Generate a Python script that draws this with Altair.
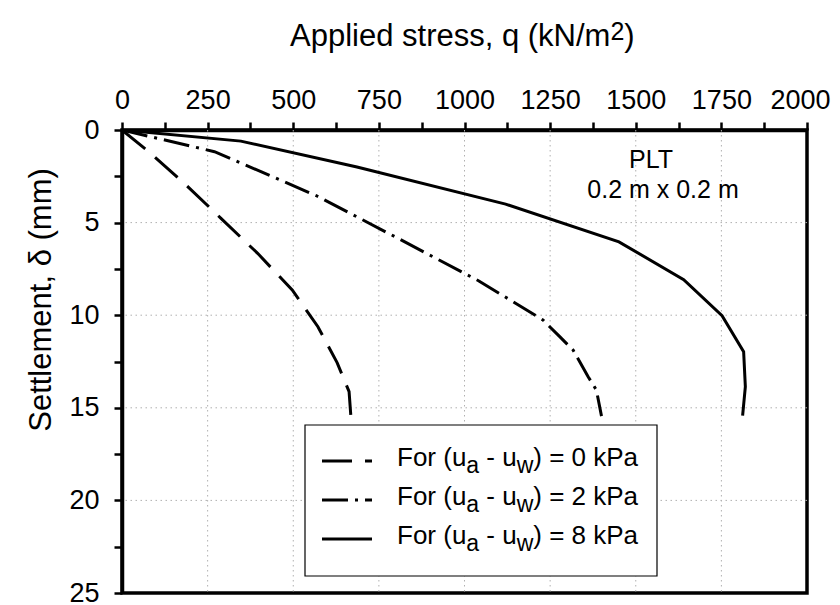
import altair as alt
import pandas as pd

# ---------------- data ----------------
q_0kpa = [0, 75, 182, 289, 396, 497, 572, 628, 663, 670]
d_0kpa = [0, 1.13, 2.88, 4.77, 6.66, 8.64, 10.62, 12.56, 14.13, 15.9]

q_2kpa = [0, 270, 568, 806, 1042, 1161, 1229, 1278, 1317, 1361, 1385, 1400]
d_2kpa = [0, 1.17, 3.55, 5.85, 8.15, 9.49, 10.26, 11.16, 11.88, 13.32, 14.04, 15.45]

q_8kpa = [0, 347, 686, 1120, 1451, 1640, 1752, 1815, 1820, 1812]
d_8kpa = [0, 0.6, 2.0, 4.0, 6.04, 8.08, 10.03, 11.97, 13.86, 15.42]

suction_kpa = ["0", "2", "8"]
x_ticks = [i * 125 for i in range(17)]
y_ticks = [i * 2.5 for i in range(11)]
x_grid = [250, 500, 750, 1000, 1250, 1500, 1750]
y_grid = [5, 10, 15, 20]

x_title_main = "Applied stress, q (kN/m"
x_title_sup = "2"
x_title_end = ")"
y_title = "Settlement, \u03b4 (mm)"
plt_line1 = "PLT"
plt_line2 = "0.2 m x 0.2 m"

# ---------------- styling ----------------
FONT = "Liberation Sans"
W, H = 685, 463
DASHES = [[30, 13], [26, 7, 3, 7], None]

ARIAL = {' ': 278, '(': 333, ')': 333, '-': 333, '=': 584, 'F': 611, 'o': 556,
         'r': 333, 'u': 556, 'a': 556, 'w': 722, 'k': 500, 'P': 667, 'A': 667,
         'p': 556, 'l': 222, 'i': 222, 'e': 556, 'd': 556, 's': 500, 't': 278,
         ',': 278, 'q': 556, 'N': 722, '/': 278, 'm': 833, '.': 278, 'x': 500,
         'L': 556, 'T': 611}


def tw(s, size):
    return sum(ARIAL.get(c, 556) for c in s) / 1000.0 * size


one = pd.DataFrame({"k": [0]})

x_scale = alt.Scale(domain=[0, 2000], nice=False, zero=False)
y_scale = alt.Scale(domain=[0, 25], nice=False, zero=False, reverse=True)

x_axis = alt.Axis(orient="top", values=x_ticks, format="d",
                  labelExpr="datum.value % 250 === 0 ? datum.label : ''",
                  title=None, grid=False, labelFlush=False, labelOverlap=False,
                  labelBound=False, tickSize=8, labelPadding=14,
                  labelBaseline="alphabetic",
                  labelOffset={"condition": {"test": "datum.value === 2000",
                                             "value": -7}, "value": 0})
y_axis = alt.Axis(orient="left", values=y_ticks, format="d",
                  labelExpr="datum.value % 5 === 0 ? datum.label : ''",
                  title=None, grid=False, labelOverlap=False, labelFlush=False,
                  tickSize=8, labelPadding=15, labelAlign="right",
                  labelBaseline="middle")

X = alt.X("q:Q", scale=x_scale, axis=x_axis)
Y = alt.Y("d:Q", scale=y_scale, axis=y_axis)

layers = []

# grid
layers.append(alt.Chart(pd.DataFrame({"q": x_grid})).mark_rule(
    color="#b0b0b0", strokeWidth=1, strokeDash=[1.5, 3.5]).encode(x=X))
layers.append(alt.Chart(pd.DataFrame({"d": y_grid})).mark_rule(
    color="#b0b0b0", strokeWidth=1, strokeDash=[1.5, 3.5]).encode(y=Y))

# curves
for q, d, dash in [(q_0kpa, d_0kpa, DASHES[0]), (q_2kpa, d_2kpa, DASHES[1]),
                   (q_8kpa, d_8kpa, DASHES[2])]:
    df = pd.DataFrame({"q": q, "d": d, "i": list(range(len(q)))})
    kw = dict(color="black", strokeWidth=3, strokeCap="butt", clip=True)
    if dash:
        kw["strokeDash"] = dash
    layers.append(alt.Chart(df).mark_line(**kw).encode(
        x=X, y=Y, order="i:Q"))

# legend box
layers.append(alt.Chart(one).mark_rect(fill="white", stroke="black",
                                       strokeWidth=1.2).encode(
    x=alt.value(183), x2=alt.value(535), y=alt.value(295), y2=alt.value(446)))

LFS = 26
SUBFS = 23
for idx, val in enumerate(suction_kpa):
    ly = 331 + idx * 39
    base = ly + 5
    rkw = dict(color="black", strokeWidth=3, strokeCap="butt")
    if DASHES[idx]:
        rkw["strokeDash"] = DASHES[idx]
    layers.append(alt.Chart(one).mark_rule(**rkw).encode(
        x=alt.value(200), x2=alt.value(250), y=alt.value(ly)))
    pieces = [("For (u", False), ("a", True), (" - u", False), ("w", True),
              (") = " + val + " kPa", False)]
    xx = 275.0
    for txt, sub in pieces:
        fs = SUBFS if sub else LFS
        lead = len(txt) - len(txt.lstrip(" "))
        xs = xx + tw(" " * lead, fs)
        layers.append(alt.Chart(one).mark_text(
            text=txt.strip(" "), font=FONT, fontSize=fs, color="black",
            align="left", baseline="alphabetic").encode(
            x=alt.value(xs), y=alt.value(base + (7 if sub else 0))))
        xx += tw(txt, fs)

# PLT annotation
layers.append(alt.Chart(one).mark_text(
    text=plt_line1, font=FONT, fontSize=25, color="black", align="center",
    baseline="alphabetic").encode(x=alt.value(529), y=alt.value(38)))
layers.append(alt.Chart(one).mark_text(
    text=plt_line2, font=FONT, fontSize=25, color="black", align="center",
    baseline="alphabetic").encode(x=alt.value(541), y=alt.value(68)))

# x title with superscript
TFS = 31
tx = 168.0
layers.append(alt.Chart(one).mark_text(
    text=x_title_main, font=FONT, fontSize=TFS, color="black", align="left",
    baseline="alphabetic").encode(x=alt.value(tx), y=alt.value(-84)))
tx += tw(x_title_main, TFS)
layers.append(alt.Chart(one).mark_text(
    text=x_title_sup, font=FONT, fontSize=25, color="black", align="left",
    baseline="alphabetic").encode(x=alt.value(tx), y=alt.value(-90)))
tx += tw(x_title_sup, 25)
layers.append(alt.Chart(one).mark_text(
    text=x_title_end, font=FONT, fontSize=TFS, color="black", align="left",
    baseline="alphabetic").encode(x=alt.value(tx), y=alt.value(-84)))

# y title
layers.append(alt.Chart(one).mark_text(
    text=y_title, font=FONT, fontSize=TFS, color="black", align="center",
    baseline="alphabetic", angle=270).encode(x=alt.value(-71), y=alt.value(170)))

chart = alt.layer(*layers).properties(
    width=W, height=H,
    autosize=alt.AutoSizeParams(type="none"),
    padding={"left": 114, "top": 122, "right": 24, "bottom": 11},
    background="white",
).configure_view(
    stroke="black", strokeWidth=3.5
).configure_axis(
    domainColor="black", domainWidth=3.5, tickColor="black", tickWidth=2.5,
    labelFont=FONT, labelFontSize=27, labelColor="black"
)

chart.save("out.html", embed_options={"renderer": "svg", "actions": False})
